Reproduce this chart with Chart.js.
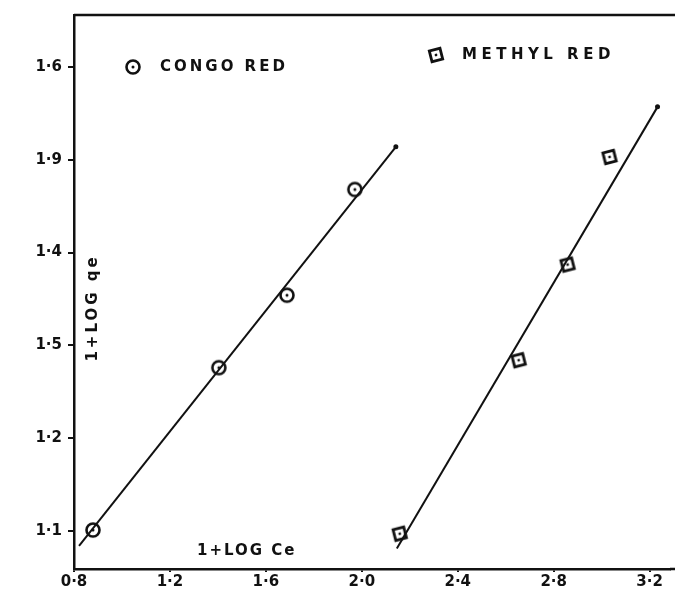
<!DOCTYPE html>
<html>
<head>
<meta charset="utf-8">
<title>Freundlich isotherm — Congo red / Methyl red</title>
<script src="https://cdn.jsdelivr.net/npm/chart.js@4.4.1/dist/chart.umd.min.js"></script>
<style>
  html, body { margin: 0; padding: 0; background: #fff; }
  #wrap { width: 675px; height: 592px; }
</style>
</head>
<body>
<div id="wrap"><canvas id="chart" width="675" height="592"></canvas></div>
<script>
// ── Data ─────────────────────────────────────────────────

const CONGO_X = [0.879, 1.404, 1.688, 1.971];
const CONGO_Y = [1.101, 1.276, 1.354, 1.468];

const METHYL_X = [2.158, 2.654, 2.858, 3.033];
const METHYL_Y = [1.097, 1.284, 1.387, 1.503];

// fitted straight lines (end points as drawn)
const CONGO_FIT_X = [0.821, 2.142];
const CONGO_FIT_Y = [1.084, 1.514];
const METHYL_FIT_X = [2.146, 3.233];
const METHYL_FIT_Y = [1.081, 1.557];

const X_TICKS = [0.8, 1.2, 1.6, 2.0, 2.4, 2.8, 3.2];
const X_TICK_LABELS = ["0·8", "1·2", "1·6", "2·0", "2·4", "2·8", "3·2"];
const Y_TICKS = [1.1, 1.2, 1.3, 1.4, 1.5, 1.6];
const Y_TICK_LABELS = ["1·1", "1·2", "1·5", "1·4", "1·9", "1·6"];

const SERIES_NAMES = ["CONGO RED", "METHYL RED"];
const X_TITLE = "1+LOG Ce";
const Y_TITLE = "1+LOG qe";

// ── Helpers ──────────────────────────────────────────────

const FONT = "'DejaVu Sans', sans-serif";
const INK = "#111";

function toPoints(xs, ys) {
  return xs.map((x, i) => ({ x, y: ys[i] }));
}

function circleMarker() {
  const c = document.createElement("canvas");
  c.width = 20; c.height = 20;
  const g = c.getContext("2d");
  g.strokeStyle = INK;
  g.fillStyle = INK;
  g.lineWidth = 2.6;
  g.beginPath();
  g.arc(10, 10, 6.5, 0, Math.PI * 2);
  g.stroke();
  g.beginPath();
  g.arc(10, 10, 1.5, 0, Math.PI * 2);
  g.fill();
  return c;
}

function squareMarker() {
  const c = document.createElement("canvas");
  c.width = 20; c.height = 20;
  const g = c.getContext("2d");
  g.strokeStyle = INK;
  g.fillStyle = INK;
  g.lineWidth = 2.8;
  g.translate(10, 10);
  g.rotate(-0.25);
  g.strokeRect(-5.5, -5.5, 11, 11);
  g.beginPath();
  g.arc(0, 0, 1.4, 0, Math.PI * 2);
  g.fill();
  return c;
}

const CIRCLE = circleMarker();
const SQUARE = squareMarker();

// ── Annotations drawn inside the plot ───────────────────

const annotations = {
  id: "annotations",
  afterDraw(chart) {
    const { ctx, chartArea: a } = chart;
    ctx.save();
    // frame: top line runs to the page edge, bottom axis too (no right border)
    ctx.strokeStyle = INK;
    ctx.lineWidth = 2.5;
    ctx.beginPath();
    ctx.moveTo(a.left, a.top);
    ctx.lineTo(chart.width, a.top);
    ctx.moveTo(a.right, a.bottom);
    ctx.lineTo(chart.width, a.bottom);
    ctx.stroke();

    ctx.fillStyle = INK;
    ctx.textBaseline = "middle";
    ctx.textAlign = "left";

    // legend
    ctx.font = "bold 15px " + FONT;
    ctx.letterSpacing = "3px";
    ctx.drawImage(CIRCLE, 133 - 10, 67 - 10);
    ctx.fillText(SERIES_NAMES[0], 160, 67);
    ctx.drawImage(SQUARE, 436 - 10, 55 - 10);
    ctx.letterSpacing = "4.5px";
    ctx.fillText(SERIES_NAMES[1], 462, 55);

    // axis titles
    ctx.font = "bold 15px " + FONT;
    ctx.letterSpacing = "2px";
    ctx.fillText(X_TITLE, 197, 551);

    ctx.translate(93, 308);
    ctx.rotate(-Math.PI / 2);
    ctx.textAlign = "center";
    ctx.letterSpacing = "3px";
    ctx.fillText(Y_TITLE, 0, 0);
    ctx.restore();
  },
};

// ── Chart ────────────────────────────────────────────────

new Chart(document.getElementById("chart"), {
  type: "scatter",
  data: {
    datasets: [
      {
        type: "line",
        data: toPoints(CONGO_FIT_X, CONGO_FIT_Y),
        borderColor: INK,
        borderWidth: 2,
        pointRadius: [0, 2.5],
        pointBackgroundColor: INK,
        pointBorderWidth: 0,
        fill: false,
      },
      {
        type: "line",
        data: toPoints(METHYL_FIT_X, METHYL_FIT_Y),
        borderColor: INK,
        borderWidth: 2,
        pointRadius: [0, 2.5],
        pointBackgroundColor: INK,
        pointBorderWidth: 0,
        fill: false,
      },
      {
        label: SERIES_NAMES[0],
        data: toPoints(CONGO_X, CONGO_Y),
        pointStyle: CIRCLE,
      },
      {
        label: SERIES_NAMES[1],
        data: toPoints(METHYL_X, METHYL_Y),
        pointStyle: SQUARE,
      },
    ],
  },
  options: {
    responsive: false,
    animation: false,
    events: [],
    layout: { padding: { top: 10, right: 0, left: 0, bottom: 0 } },
    plugins: {
      legend: { display: false },
      tooltip: { enabled: false },
    },
    scales: {
      x: {
        type: "linear",
        min: 0.8,
        max: 3.285,
        afterBuildTicks: (s) => { s.ticks = X_TICKS.map((v) => ({ value: v })); },
        afterFit: (s) => { s.height = 23; },
        border: { color: INK, width: 2.5 },
        grid: { drawOnChartArea: false, drawTicks: true, tickLength: 3, color: INK, lineWidth: 2 },
        ticks: {
          color: INK,
          padding: 1,
          maxRotation: 0,
          font: { family: FONT, size: 15, weight: "bold" },
          callback: (v) => X_TICK_LABELS[X_TICKS.findIndex((t) => Math.abs(t - v) < 1e-6)],
        },
      },
      y: {
        type: "linear",
        min: 1.059,
        max: 1.656,
        afterBuildTicks: (s) => { s.ticks = Y_TICKS.map((v) => ({ value: v })); },
        afterFit: (s) => { s.width = 74; },
        border: { color: INK, width: 2.5 },
        grid: { drawOnChartArea: false, drawTicks: true, tickLength: 6, color: INK, lineWidth: 2 },
        ticks: {
          color: INK,
          padding: 6,
          font: { family: FONT, size: 15, weight: "bold" },
          callback: (v) => Y_TICK_LABELS[Y_TICKS.findIndex((t) => Math.abs(t - v) < 1e-6)],
        },
      },
    },
  },
  plugins: [annotations],
});
</script>
</body>
</html>
